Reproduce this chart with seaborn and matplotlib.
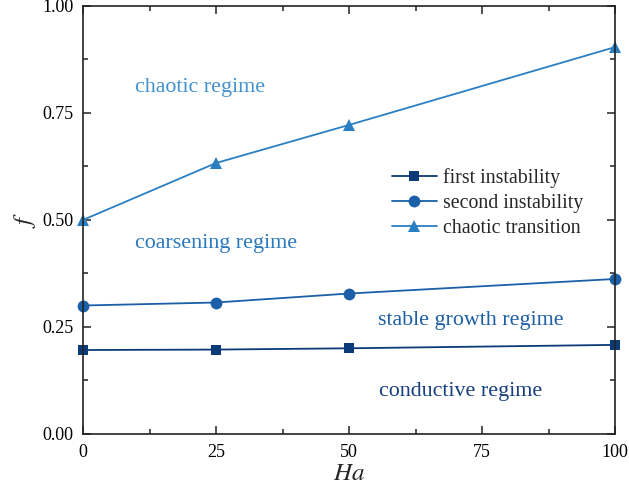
import matplotlib
matplotlib.use("Agg")
import matplotlib.pyplot as plt
import seaborn as sns
import pandas as pd
from matplotlib.ticker import MultipleLocator

sns.set_theme(style="ticks")
plt.rcParams["font.family"] = ["Liberation Serif", "DejaVu Serif"]
plt.rcParams["mathtext.fontset"] = "stix"

# Hartmann number and transition frequencies
ha = [0, 25, 50, 100]
first_instability = [0.196, 0.197, 0.200, 0.208]
second_instability = [0.300, 0.307, 0.328, 0.362]
chaotic_transition = [0.500, 0.633, 0.722, 0.904]

series_names = ["first instability", "second instability", "chaotic transition"]
series_values = [first_instability, second_instability, chaotic_transition]
colors = ["#0b3a78", "#1a5fa8", "#2a7fc2"]
markers = ["s", "o", "^"]
marker_sizes = [7, 8.5, 9]

df = pd.concat(
    [pd.DataFrame({"Ha": ha, "f": v, "series": n}) for n, v in zip(series_names, series_values)],
    ignore_index=True,
)

fig = plt.figure(figsize=(6.29, 4.97), dpi=100)
ax = fig.add_axes([0.132, 0.127, 0.846, 0.861])

for name, color, marker, ms in zip(series_names, colors, markers, marker_sizes):
    sns.lineplot(
        data=df[df["series"] == name], x="Ha", y="f", ax=ax,
        color=color, marker=marker, markersize=ms, markeredgewidth=0,
        linewidth=1.3, label=name, clip_on=False,
    )

ax.set_xlim(0, 100)
ax.set_ylim(0, 1.0)
ax.xaxis.set_major_locator(MultipleLocator(25))
ax.xaxis.set_minor_locator(MultipleLocator(12.5))
ax.yaxis.set_major_locator(MultipleLocator(0.25))
ax.yaxis.set_minor_locator(MultipleLocator(0.125))
ax.yaxis.set_major_formatter(plt.FormatStrFormatter("%.2f"))
ax.tick_params(which="both", direction="in", top=True, right=True, labelsize=13,
               width=1.1, colors="#222222", labelcolor="black")
ax.tick_params(which="major", length=6, pad=7)
ax.tick_params(which="minor", length=3.5)
for s in ax.spines.values():
    s.set_linewidth(1.2)
    s.set_color("#222222")

ax.set_xlabel("$Ha$", fontsize=18, labelpad=2)
ax.set_ylabel("$f$", fontsize=18, labelpad=3)

ax.text(9.8, 0.81, "chaotic regime", color="#4292cf", fontsize=15.8, va="center")
ax.text(9.8, 0.444, "coarsening regime", color="#2a79bf", fontsize=15.8, va="center")
ax.text(55.5, 0.266, "stable growth regime", color="#1f5fa8", fontsize=15.8, va="center")
ax.text(55.6, 0.098, "conductive regime", color="#173f7f", fontsize=15.8, va="center")

ax.legend(loc="upper left", bbox_to_anchor=(0.565, 0.64), frameon=False,
          fontsize=14.3, handlelength=2.3, handletextpad=0.3, labelspacing=0.3,
          borderaxespad=0)

fig.savefig("out.png", dpi=100)
